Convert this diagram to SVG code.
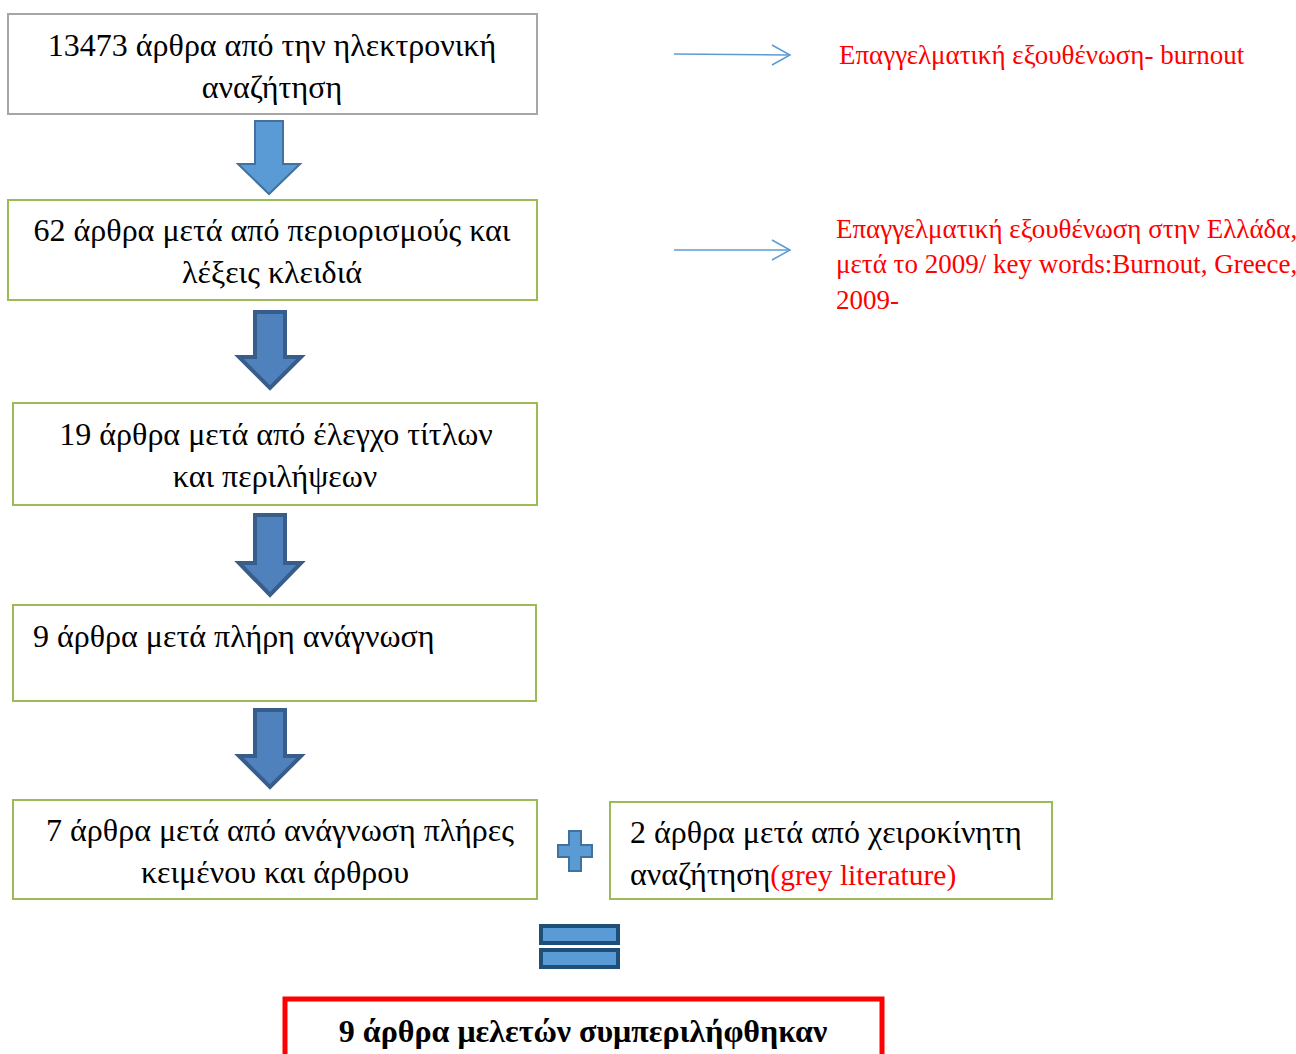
<svg xmlns="http://www.w3.org/2000/svg" width="1296" height="1054" viewBox="0 0 1296 1054">
<style>
.box{fill:#fff;stroke:#9bbb59;stroke-width:2}
.t{font-family:"Liberation Serif","DejaVu Serif",serif;font-size:32px;fill:#000}
.r{font-family:"Liberation Serif","DejaVu Serif",serif;font-size:27px;fill:#ff0000}
.a1{fill:#5b9bd5;stroke:#41719c;stroke-width:2}
.a2{fill:#4f81bd;stroke:#385d8a;stroke-width:4}
.thin{fill:none;stroke:#5b9bd5;stroke-width:1.5}
</style>
<rect width="1296" height="1054" fill="#fff"/>
<g id="connectors">
<path class="a1" d="M255,121 H283 V164 H300 L269,194 L238,164 H255 Z"/>
<path class="a2" d="M255,312 H285 V357 H301 L270,388 L239,357 H255 Z"/>
<path class="a2" d="M255,515 H285 V563 H301 L270,595 L239,563 H255 Z"/>
<path class="a2" d="M255,710 H285 V756 H301 L270,787 L239,756 H255 Z"/>
<g class="thin"><path d="M674,54 L790,55"/><path d="M772,45 L790,55 L772,65"/></g>
<g class="thin"><path d="M674,250 L790,250"/><path d="M772,240 L790,250 L772,260"/></g>
</g>
<g id="n1"><rect x="8" y="14" width="529" height="100" fill="#fff" stroke="#a6a6a6" stroke-width="2"/>
<text class="t" x="272" y="56" text-anchor="middle">13473 άρθρα από την ηλεκτρονική</text>
<text class="t" x="272" y="98" text-anchor="middle">αναζήτηση</text></g>
<g id="n2"><rect class="box" x="8" y="200" width="529" height="100"/>
<text class="t" x="272" y="241" text-anchor="middle">62 άρθρα μετά από περιορισμούς και</text>
<text class="t" x="272" y="283" text-anchor="middle">λέξεις κλειδιά</text></g>
<g id="n3"><rect class="box" x="13" y="403" width="524" height="102"/>
<text class="t" x="276" y="445" text-anchor="middle">19 άρθρα μετά από έλεγχο τίτλων</text>
<text class="t" x="275" y="487" text-anchor="middle">και περιλήψεων</text></g>
<g id="n4"><rect class="box" x="13" y="605" width="523" height="96"/>
<text class="t" x="33" y="647">9 άρθρα μετά πλήρη ανάγνωση</text></g>
<g id="n5"><rect class="box" x="13" y="800" width="524" height="99"/>
<text class="t" x="280" y="841" text-anchor="middle">7 άρθρα μετά από ανάγνωση πλήρες</text>
<text class="t" x="275" y="883" text-anchor="middle">κειμένου και άρθρου</text></g>
<g id="plus"><path d="M569,831 H581 V845 H592 V857 H581 V871 H569 V857 H558 V845 H569 Z" fill="#5b9bd5" stroke="#41719c" stroke-width="2"/></g>
<g id="n6"><rect class="box" x="610" y="802" width="442" height="97"/>
<text class="t" x="630" y="843">2 άρθρα μετά από χειροκίνητη</text>
<text class="t" x="630" y="885">αναζήτηση<tspan fill="#ff0000" font-size="29.5">(grey literature)</tspan></text></g>
<g id="equals" fill="#5b9bd5" stroke="#1f4e79" stroke-width="4">
<rect x="541" y="926" width="77" height="17"/><rect x="541" y="950" width="77" height="17"/></g>
<g id="result"><rect x="285" y="999" width="597" height="70" fill="#fff" stroke="#ff0000" stroke-width="5"/>
<text x="583" y="1042" text-anchor="middle" font-family="Liberation Serif, DejaVu Serif, serif" font-size="32" font-weight="bold">9 άρθρα μελετών συμπεριλήφθηκαν</text></g>
<g id="note1"><text class="r" x="839" y="64">Επαγγελματική εξουθένωση- burnout</text></g>
<g id="note2"><text class="r" x="836" y="238">Επαγγελματική εξουθένωση στην Ελλάδα,</text>
<text class="r" x="836" y="273">μετά το 2009/ key words:Burnout, Greece,</text>
<text class="r" x="836" y="309">2009-</text></g>
</svg>
